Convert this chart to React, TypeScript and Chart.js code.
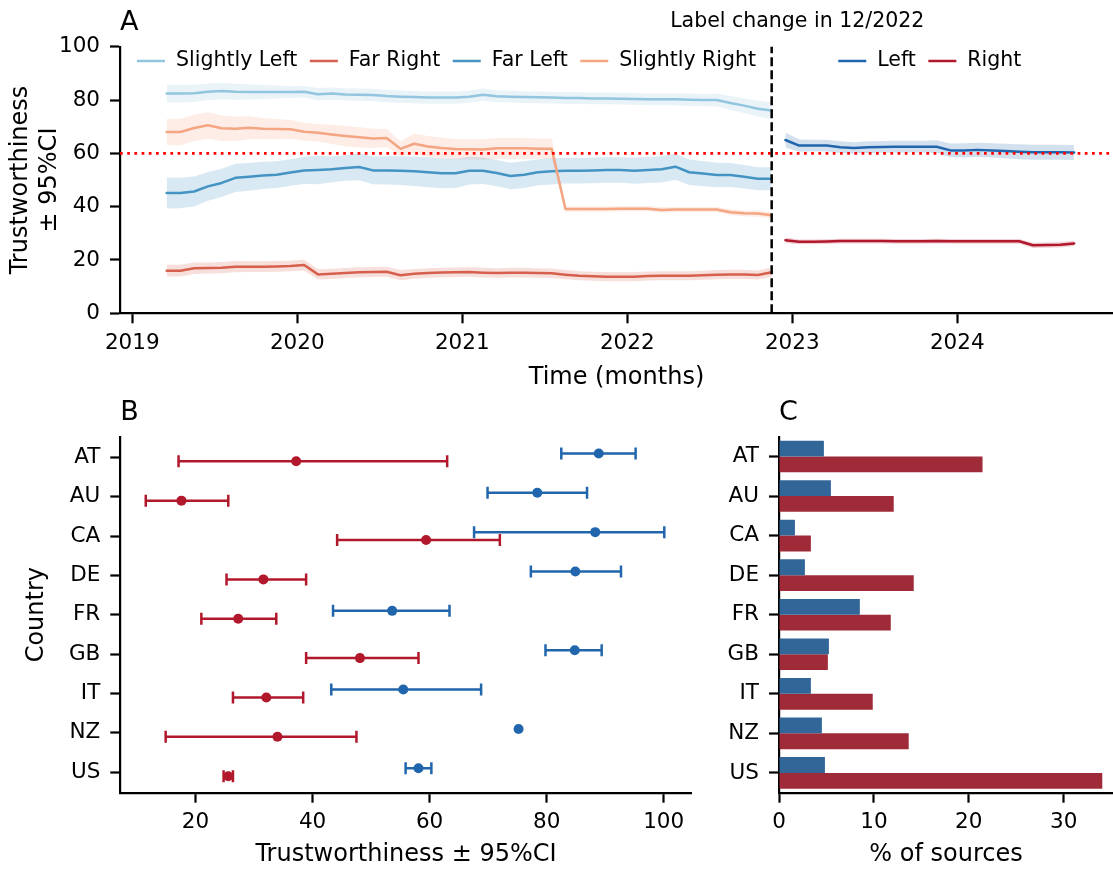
import React, { useEffect, useRef } from 'react';
import { Chart, registerables } from 'chart.js';

Chart.register(...registerables);

const FONT = "'DejaVu Sans', 'Liberation Sans', sans-serif";
const INK = '#000000';
const TICK_FONT = { family: FONT, size: 21.5, lineHeight: 1.2 };
const TITLE_FONT = { family: FONT, size: 24, lineHeight: 1.2 };
const LEGEND_SIZE = 20.5;
const LETTER_SIZE = 27;

// ---------- Panel A data ----------
const MONTHS_BEFORE = [
  '2019-03', '2019-04', '2019-05', '2019-06', '2019-07', '2019-08', '2019-09', '2019-10', '2019-11', '2019-12',
  '2020-01', '2020-02', '2020-03', '2020-04', '2020-05', '2020-06', '2020-07', '2020-08', '2020-09', '2020-10', '2020-11', '2020-12',
  '2021-01', '2021-02', '2021-03', '2021-04', '2021-05', '2021-06', '2021-07', '2021-08', '2021-09', '2021-10', '2021-11', '2021-12',
  '2022-01', '2022-02', '2022-03', '2022-04', '2022-05', '2022-06', '2022-07', '2022-08', '2022-09', '2022-10', '2022-11',
];
const MONTHS_AFTER = [
  '2022-12',
  '2023-01', '2023-02', '2023-03', '2023-04', '2023-05', '2023-06', '2023-07', '2023-08', '2023-09', '2023-10', '2023-11', '2023-12',
  '2024-01', '2024-02', '2024-03', '2024-04', '2024-05', '2024-06', '2024-07', '2024-08', '2024-09',
];
const LABEL_CHANGE_MONTH = '2022-11';
const LABEL_CHANGE_TEXT = 'Label change in 12/2022';
const LABEL_CHANGE_TEXT_AT = 2023.03;
const THRESHOLD = 60;
const YEAR_TICKS = [2019, 2020, 2021, 2022, 2023, 2024];
const TRUST_TICKS = [0, 20, 40, 60, 80, 100];
const TIME_MIN = 2018.9255;
const TIME_MAX = 2024.9436;

const SLIGHTLY_LEFT = [82.4, 82.4, 82.5, 83.1, 83.4, 83.1, 83.0, 83.0, 83.0, 83.0, 83.1, 82.2, 82.4, 82.1, 82.0, 81.9, 81.5, 81.25, 81.1, 80.9, 80.9, 80.9, 81.25, 82.0, 81.4, 81.25, 81.1, 81.0, 80.9, 80.75, 80.75, 80.6, 80.6, 80.5, 80.4, 80.25, 80.25, 80.25, 80.1, 80.0, 80.0, 78.9, 77.9, 76.75, 76.1];
const SLIGHTLY_LEFT_CI = [3.3, 3.3, 3.2, 3.1, 3.1, 3.0, 2.8, 2.6, 2.4, 2.2, 2.2, 2.3, 2.3, 2.3, 2.3, 2.3, 2.3, 2.3, 2.3, 2.3, 2.3, 2.3, 2.3, 2.3, 2.2, 2.2, 2.2, 2.2, 2.2, 2.2, 2.2, 2.2, 2.2, 2.2, 2.2, 2.2, 2.2, 2.2, 2.3, 2.3, 2.4, 2.6, 2.8, 3.0, 3.1];

const FAR_RIGHT = [16.0, 16.0, 16.9, 17.0, 17.1, 17.5, 17.5, 17.5, 17.6, 17.75, 18.1, 14.6, 14.8, 15.1, 15.4, 15.5, 15.6, 14.3, 14.8, 15.1, 15.3, 15.4, 15.5, 15.25, 15.1, 15.25, 15.25, 15.1, 15.0, 14.5, 14.1, 13.9, 13.75, 13.7, 13.75, 14.0, 14.1, 14.1, 14.1, 14.25, 14.5, 14.6, 14.6, 14.4, 15.4];
const FAR_RIGHT_CI = [2.2, 2.2, 2.2, 2.1, 2.1, 2.1, 2.0, 2.0, 2.0, 2.0, 2.0, 1.9, 1.9, 1.9, 1.9, 1.9, 1.9, 1.9, 1.8, 1.8, 1.8, 1.8, 1.8, 1.8, 1.8, 1.8, 1.8, 1.8, 1.8, 1.7, 1.7, 1.7, 1.7, 1.7, 1.7, 1.7, 1.7, 1.7, 1.7, 1.7, 1.7, 1.7, 1.7, 1.7, 1.8];

const FAR_LEFT = [45.1, 45.1, 45.7, 47.6, 48.9, 50.8, 51.2, 51.7, 52.0, 52.8, 53.6, 53.75, 54.0, 54.5, 54.9, 53.6, 53.6, 53.5, 53.25, 52.9, 52.5, 52.5, 53.5, 53.5, 52.6, 51.5, 52.0, 52.9, 53.25, 53.5, 53.5, 53.6, 53.75, 53.75, 53.5, 53.75, 54.0, 55.0, 52.9, 52.4, 51.9, 51.9, 51.25, 50.5, 50.5];
const FAR_LEFT_CI = [5.8, 5.7, 5.6, 5.4, 5.3, 5.3, 5.2, 5.1, 5.0, 5.0, 5.1, 5.3, 4.8, 4.8, 5.0, 5.2, 5.3, 5.4, 5.5, 5.6, 5.6, 5.5, 5.2, 5.0, 4.9, 5.0, 5.0, 4.9, 4.9, 4.8, 4.8, 4.8, 4.8, 4.8, 4.9, 4.9, 4.9, 4.9, 4.8, 4.7, 4.6, 4.5, 4.4, 4.3, 4.3];

const SLIGHTLY_RIGHT = [68.0, 68.0, 69.5, 70.5, 69.4, 69.25, 69.6, 69.25, 69.1, 69.0, 68.1, 67.75, 67.1, 66.5, 66.0, 65.6, 65.75, 61.7, 63.6, 62.6, 62.0, 61.6, 61.5, 61.4, 61.9, 61.9, 61.9, 61.75, 61.75, 39.1, 39.1, 39.1, 39.1, 39.25, 39.25, 39.25, 38.75, 38.9, 38.9, 38.9, 38.9, 37.9, 37.5, 37.4, 36.75];
const SLIGHTLY_RIGHT_CI = [5.0, 5.0, 5.0, 5.0, 4.8, 4.6, 4.3, 4.0, 3.8, 3.5, 3.4, 3.3, 3.6, 3.8, 3.8, 3.6, 3.4, 2.8, 3.8, 3.9, 3.9, 3.8, 3.8, 3.9, 3.9, 3.9, 3.9, 3.8, 3.8, 1.1, 1.0, 1.0, 1.0, 1.0, 1.0, 1.0, 1.0, 1.0, 1.0, 1.0, 1.0, 1.1, 1.1, 1.2, 1.2];

const LEFT = [65.0, 62.9, 62.9, 62.9, 62.3, 62.0, 62.3, 62.4, 62.5, 62.5, 62.5, 62.5, 61.1, 61.1, 61.3, 61.1, 60.9, 60.6, 60.4, 60.4, 60.4, 60.3];
const LEFT_CI = [2.8, 2.3, 2.2, 2.2, 2.2, 2.2, 2.2, 2.2, 2.2, 2.2, 2.2, 2.4, 2.6, 2.7, 2.7, 2.7, 2.7, 2.8, 2.8, 2.8, 2.8, 2.8];

const RIGHT = [27.4, 26.8, 26.8, 26.9, 27.1, 27.1, 27.1, 27.1, 27.0, 27.0, 27.0, 27.1, 27.0, 27.0, 27.0, 27.0, 27.0, 27.0, 25.5, 25.6, 25.7, 26.2];
const RIGHT_CI = [1.0, 0.9, 0.9, 0.9, 0.9, 0.9, 0.9, 0.9, 0.9, 0.9, 0.9, 0.9, 0.9, 0.9, 0.9, 0.9, 0.9, 0.9, 1.0, 1.0, 1.0, 1.0];

const SERIES_A = [
  { label: 'Slightly Left', months: MONTHS_BEFORE, values: SLIGHTLY_LEFT, ci: SLIGHTLY_LEFT_CI, color: '#92c5de' },
  { label: 'Far Right', months: MONTHS_BEFORE, values: FAR_RIGHT, ci: FAR_RIGHT_CI, color: '#d6604d' },
  { label: 'Far Left', months: MONTHS_BEFORE, values: FAR_LEFT, ci: FAR_LEFT_CI, color: '#4393c3' },
  { label: 'Slightly Right', months: MONTHS_BEFORE, values: SLIGHTLY_RIGHT, ci: SLIGHTLY_RIGHT_CI, color: '#f4a582' },
  { label: 'Left', months: MONTHS_AFTER, values: LEFT, ci: LEFT_CI, color: '#2166ac' },
  { label: 'Right', months: MONTHS_AFTER, values: RIGHT, ci: RIGHT_CI, color: '#b2182b' },
];

// ---------- Panel B / C data ----------
const COUNTRIES = ['AT', 'AU', 'CA', 'DE', 'FR', 'GB', 'IT', 'NZ', 'US'];
const TRUST_LEFT = [88.9, 78.4, 88.3, 84.9, 53.6, 84.8, 55.5, 75.2, 58.1];
const TRUST_LEFT_LO = [82.5, 69.9, 67.6, 77.3, 43.5, 79.8, 43.2, null, 55.9];
const TRUST_LEFT_HI = [95.2, 86.9, 100.1, 92.7, 63.4, 89.4, 68.8, null, 60.3];
const TRUST_RIGHT = [37.2, 17.6, 59.4, 31.6, 27.3, 48.1, 32.1, 34.0, 25.6];
const TRUST_RIGHT_LO = [17.1, 11.5, 44.2, 25.3, 21.0, 38.9, 26.4, 14.9, 24.8];
const TRUST_RIGHT_HI = [63.0, 25.6, 72.0, 38.9, 33.8, 58.1, 38.4, 47.5, 26.4];
const TRUST_B_TICKS = [20, 40, 60, 80, 100];

const SHARE_LEFT = [4.73, 5.47, 1.68, 2.73, 8.52, 5.26, 3.36, 4.52, 4.84];
const SHARE_RIGHT = [21.45, 12.09, 3.36, 14.2, 11.78, 5.15, 9.88, 13.67, 34.07];
const SHARE_TICKS = [0, 10, 20, 30];

const B_GROUPS = [
  { values: TRUST_LEFT, lo: TRUST_LEFT_LO, hi: TRUST_LEFT_HI, color: '#2166ac', offset: -0.1 },
  { values: TRUST_RIGHT, lo: TRUST_RIGHT_LO, hi: TRUST_RIGHT_HI, color: '#b2182b', offset: 0.1 },
];

// ---------- helpers ----------
const toYear = (m: string) => {
  const [yy, mm] = m.split('-').map(Number);
  return yy + (mm - 0.5) / 12;
};
const rgba = (hex: string, a: number) => {
  const n = parseInt(hex.slice(1), 16);
  return `rgba(${(n >> 16) & 255},${(n >> 8) & 255},${n & 255},${a})`;
};

const axisBase = (tickPadding: number, extraTicks: any = {}) => ({
  border: { display: true, color: INK, width: 2.2 },
  grid: { display: true, drawOnChartArea: false, drawTicks: true, tickLength: 10, tickWidth: 2.2, tickColor: INK },
  ticks: { color: INK, font: TICK_FONT, padding: tickPadding, maxRotation: 0, autoSkip: false, ...extraTicks },
});

function drawPanelLetter(chart: any, letter: string) {
  const { ctx, chartArea } = chart;
  ctx.save();
  ctx.font = `${LETTER_SIZE}px ${FONT}`;
  ctx.fillStyle = INK;
  ctx.textAlign = 'left';
  ctx.textBaseline = 'alphabetic';
  ctx.fillText(letter, chartArea.left, chartArea.top - 17);
  ctx.restore();
}

function legendWidth(ctx: CanvasRenderingContext2D, labels: string[]) {
  let w = 0;
  labels.forEach((l, i) => {
    w += 28 + 11 + ctx.measureText(l).width + (i < labels.length - 1 ? 12.5 : 0);
  });
  return w;
}

function drawLegend(ctx: CanvasRenderingContext2D, items: { label: string; color: string }[], startX: number, y: number) {
  let x = startX;
  items.forEach((it) => {
    ctx.strokeStyle = it.color;
    ctx.lineWidth = 2.5;
    ctx.setLineDash([]);
    ctx.beginPath();
    ctx.moveTo(x, y + 0.8);
    ctx.lineTo(x + 28, y + 0.8);
    ctx.stroke();
    x += 28 + 11;
    ctx.fillStyle = INK;
    ctx.fillText(it.label, x, y);
    x += ctx.measureText(it.label).width + 12.5;
  });
}

const panelAPlugin = {
  id: 'panelAExtras',
  afterDatasetsDraw(chart: any) {
    const { ctx, chartArea: ca, scales } = chart;
    ctx.save();
    const yy = scales.y.getPixelForValue(THRESHOLD);
    ctx.strokeStyle = '#ff0000';
    ctx.lineWidth = 2.7;
    ctx.lineCap = 'butt';
    ctx.setLineDash([2.7, 4.5]);
    ctx.beginPath();
    ctx.moveTo(ca.left, yy);
    ctx.lineTo(ca.right, yy);
    ctx.stroke();

    const xx = scales.x.getPixelForValue(toYear(LABEL_CHANGE_MONTH));
    ctx.strokeStyle = INK;
    ctx.lineWidth = 2.5;
    ctx.setLineDash([9, 4]);
    ctx.beginPath();
    ctx.moveTo(xx, ca.bottom);
    ctx.lineTo(xx, ca.top);
    ctx.stroke();
    ctx.restore();
  },
  afterDraw(chart: any) {
    const { ctx, chartArea: ca, scales } = chart;
    drawPanelLetter(chart, 'A');
    ctx.save();
    ctx.font = `${LEGEND_SIZE}px ${FONT}`;
    ctx.textBaseline = 'middle';
    ctx.textAlign = 'left';
    const before = SERIES_A.filter((s) => s.months === MONTHS_BEFORE);
    const after = SERIES_A.filter((s) => s.months === MONTHS_AFTER);
    const legendY = ca.top + 13.5;
    drawLegend(ctx, before, ca.left + 17, legendY);
    const c1 = scales.x.getPixelForValue(toYear(MONTHS_AFTER[0]));
    const c2 = scales.x.getPixelForValue(toYear(MONTHS_AFTER[MONTHS_AFTER.length - 1]));
    const w = legendWidth(ctx, after.map((s) => s.label));
    drawLegend(ctx, after, (c1 + c2) / 2 - w / 2, legendY);

    ctx.textAlign = 'center';
    ctx.textBaseline = 'alphabetic';
    ctx.fillStyle = INK;
    ctx.fillText(LABEL_CHANGE_TEXT, scales.x.getPixelForValue(LABEL_CHANGE_TEXT_AT), ca.top - 20);
    ctx.restore();
  },
};

const errorBarPlugin = {
  id: 'errorBars',
  beforeDatasetsDraw(chart: any) {
    const { ctx, scales } = chart;
    const CAP = 6;
    ctx.save();
    B_GROUPS.forEach((g) => {
      ctx.strokeStyle = g.color;
      ctx.lineWidth = 2.5;
      ctx.lineCap = 'butt';
      ctx.setLineDash([]);
      COUNTRIES.forEach((_, i) => {
        const lo = g.lo[i];
        const hi = g.hi[i];
        if (lo == null || hi == null) return;
        const py = scales.y.getPixelForValue(i + g.offset);
        const x1 = scales.x.getPixelForValue(lo);
        const x2 = scales.x.getPixelForValue(hi);
        ctx.beginPath();
        ctx.moveTo(x1, py);
        ctx.lineTo(x2, py);
        ctx.moveTo(x1, py - CAP);
        ctx.lineTo(x1, py + CAP);
        ctx.moveTo(x2, py - CAP);
        ctx.lineTo(x2, py + CAP);
        ctx.stroke();
      });
    });
    ctx.restore();
  },
  afterDraw(chart: any) {
    drawPanelLetter(chart, 'B');
  },
};

const panelCPlugin = {
  id: 'panelCLetter',
  afterDraw(chart: any) {
    drawPanelLetter(chart, 'C');
  },
};

function configA(): any {
  const datasets: any[] = [];
  SERIES_A.forEach((s, k) => {
    const xs = s.months.map(toYear);
    datasets.push({
      label: s.label + ' lower',
      data: xs.map((x, i) => ({ x, y: s.values[i] - s.ci[i] })),
      borderColor: 'transparent',
      borderWidth: 0,
      pointRadius: 0,
      fill: false,
      order: 30,
    });
    datasets.push({
      label: s.label + ' upper',
      data: xs.map((x, i) => ({ x, y: s.values[i] + s.ci[i] })),
      borderColor: 'transparent',
      borderWidth: 0,
      pointRadius: 0,
      fill: '-1',
      backgroundColor: rgba(s.color, 0.2),
      order: 30,
    });
    datasets.push({
      label: s.label,
      data: xs.map((x, i) => ({ x, y: s.values[i] })),
      borderColor: s.color,
      borderWidth: 2.5,
      pointRadius: 0,
      fill: false,
      tension: 0,
      borderJoinStyle: 'round',
      borderCapStyle: 'round',
      order: 10 - k,
    });
  });
  return {
    type: 'line',
    data: { datasets },
    options: {
      responsive: false,
      animation: false,
      events: [],
      layout: { padding: { left: 0, right: 0, top: 46.7, bottom: 0 } },
      plugins: {
        legend: { display: false },
        tooltip: { enabled: false },
        filler: { drawTime: 'beforeDatasetsDraw' },
      },
      scales: {
        x: {
          type: 'linear',
          min: TIME_MIN,
          max: TIME_MAX,
          ...axisBase(7, { callback: (v: number) => String(v) }),
          afterBuildTicks: (s: any) => {
            s.ticks = YEAR_TICKS.map((v) => ({ value: v }));
          },
          afterFit: (s: any) => {
            s.height = 81.7;
          },
          title: { display: true, text: 'Time (months)', color: INK, font: TITLE_FONT, padding: { top: 0, bottom: 2.6 } },
        },
        y: {
          type: 'linear',
          min: 0,
          max: 100,
          ...axisBase(10, { callback: (v: number) => String(v) }),
          afterBuildTicks: (s: any) => {
            s.ticks = TRUST_TICKS.map((v) => ({ value: v }));
          },
          afterFit: (s: any) => {
            s.width = 120;
          },
          title: { display: true, text: ['Trustworthiness', '\u00b1 95%CI'], color: INK, font: TITLE_FONT, padding: { top: 6.6, bottom: 0 } },
        },
      },
    },
    plugins: [panelAPlugin],
  };
}

function configB(): any {
  return {
    type: 'scatter',
    data: {
      datasets: B_GROUPS.map((g) => ({
        data: g.values.map((v, i) => ({ x: v, y: i + g.offset })),
        pointRadius: 5,
        pointBackgroundColor: g.color,
        pointBorderWidth: 0,
        borderColor: g.color,
      })),
    },
    options: {
      responsive: false,
      animation: false,
      events: [],
      layout: { padding: { left: 0, right: 8.2, top: 41.7, bottom: 0 } },
      plugins: { legend: { display: false }, tooltip: { enabled: false } },
      scales: {
        x: {
          type: 'linear',
          min: 7.15,
          max: 104.8,
          ...axisBase(7, { callback: (v: number) => String(v) }),
          afterBuildTicks: (s: any) => {
            s.ticks = TRUST_B_TICKS.map((v) => ({ value: v }));
          },
          afterFit: (s: any) => {
            s.height = 78.3;
          },
          title: { display: true, text: 'Trustworthiness \u00b1 95%CI', color: INK, font: TITLE_FONT, padding: { top: 0, bottom: 1.6 } },
        },
        y: {
          type: 'linear',
          reverse: true,
          min: -0.525,
          max: 8.52,
          ...axisBase(10, { callback: (v: number) => COUNTRIES[Math.round(v)] ?? '' }),
          afterBuildTicks: (s: any) => {
            s.ticks = COUNTRIES.map((_, i) => ({ value: i }));
          },
          afterFit: (s: any) => {
            s.width = 120.3;
          },
          title: { display: true, text: 'Country', color: INK, font: TITLE_FONT, padding: { top: 22, bottom: 0 } },
        },
      },
    },
    plugins: [errorBarPlugin],
  };
}

function configC(): any {
  return {
    type: 'bar',
    data: {
      labels: COUNTRIES,
      datasets: [
        { data: SHARE_LEFT, backgroundColor: '#326699', borderWidth: 0 },
        { data: SHARE_RIGHT, backgroundColor: '#9f2b39', borderWidth: 0 },
      ],
    },
    options: {
      indexAxis: 'y',
      responsive: false,
      animation: false,
      events: [],
      categoryPercentage: 0.8,
      barPercentage: 1.0,
      layout: { padding: { left: 0, right: 0, top: 41.7, bottom: 0 } },
      plugins: { legend: { display: false }, tooltip: { enabled: false } },
      scales: {
        x: {
          type: 'linear',
          min: 0,
          max: 35.2,
          ...axisBase(7, { callback: (v: number) => String(v) }),
          afterBuildTicks: (s: any) => {
            s.ticks = SHARE_TICKS.map((v) => ({ value: v }));
          },
          afterFit: (s: any) => {
            s.height = 78.3;
          },
          title: { display: true, text: '% of sources', color: INK, font: TITLE_FONT, padding: { top: 0, bottom: 1.6 } },
        },
        y: {
          type: 'category',
          offset: true,
          border: { display: true, color: INK, width: 2.2 },
          grid: { display: true, offset: false, drawOnChartArea: false, drawTicks: true, tickLength: 10, tickWidth: 2.2, tickColor: INK },
          ticks: { color: INK, font: TICK_FONT, padding: 10, autoSkip: false },
          afterFit: (s: any) => {
            s.width = 79;
          },
        },
      },
    },
    plugins: [panelCPlugin],
  };
}

export default function App() {
  const aRef = useRef<HTMLCanvasElement>(null);
  const bRef = useRef<HTMLCanvasElement>(null);
  const cRef = useRef<HTMLCanvasElement>(null);

  useEffect(() => {
    Chart.defaults.font.family = FONT;
    Chart.defaults.color = INK;
    const charts = [
      new Chart(aRef.current as HTMLCanvasElement, configA()),
      new Chart(bRef.current as HTMLCanvasElement, configB()),
      new Chart(cRef.current as HTMLCanvasElement, configC()),
    ];
    return () => charts.forEach((c) => c.destroy());
  }, []);

  return (
    <div style={{ position: 'absolute', left: 0, top: 0, width: 1113, height: 871, background: '#ffffff', overflow: 'hidden' }}>
      <canvas ref={aRef} width={1113} height={395} style={{ position: 'absolute', left: 0, top: 0 }} />
      <canvas ref={bRef} width={700} height={476} style={{ position: 'absolute', left: 0, top: 395 }} />
      <canvas ref={cRef} width={413} height={476} style={{ position: 'absolute', left: 700, top: 395 }} />
    </div>
  );
}
